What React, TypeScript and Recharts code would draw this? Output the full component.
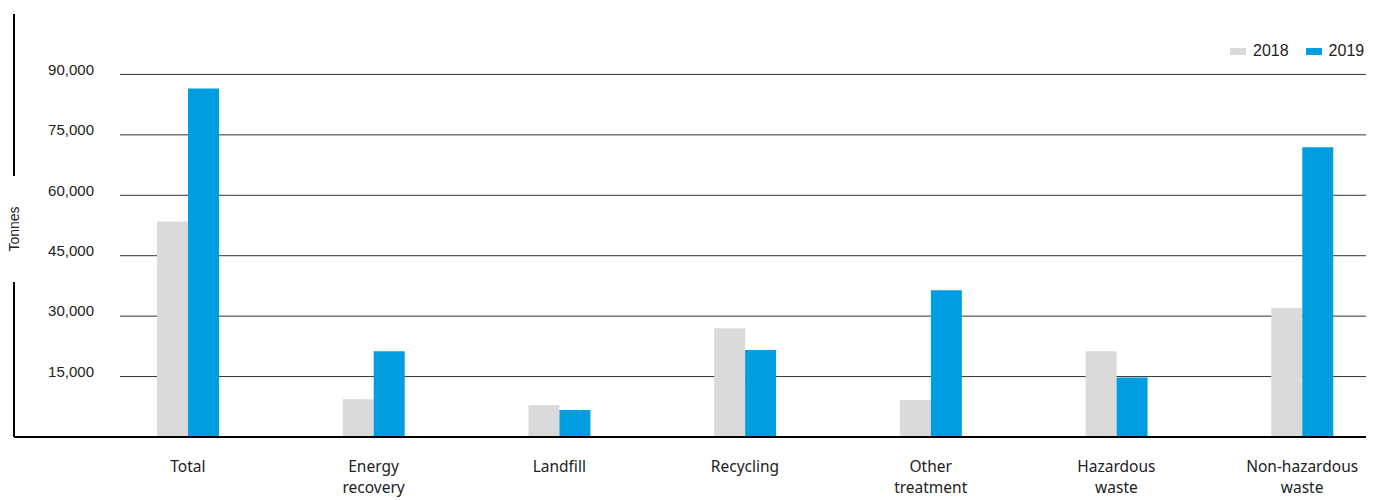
import React from 'react';
import { BarChart, Bar, XAxis, YAxis, CartesianGrid, Legend } from 'recharts';

const categories = ['Total', 'Energy recovery', 'Landfill', 'Recycling', 'Other treatment', 'Hazardous waste', 'Non-hazardous waste'];
const values2018 = [53500, 9400, 7900, 27000, 9200, 21300, 32000];
const values2019 = [86500, 21300, 6700, 21600, 36400, 14800, 71900];
const yTicks = [0, 15000, 30000, 45000, 60000, 75000, 90000];
const seriesNames = ['2018', '2019'];
const seriesColors = ['#dadada', '#009ee0'];
const yAxisTitle = 'Tonnes';

const data = categories.map((c, i) => ({ name: c, y2018: values2018[i], y2019: values2019[i] }));

const fmt = (v: number) => v.toLocaleString('en-US');

const YTick = (props: any) => {
  const { y, payload } = props;
  if (payload.value === 0) return <g />;
  return (
    <text x={94} y={y - 5} dy="0.355em" textAnchor="end" fontFamily="'Liberation Sans', Arial, sans-serif" fontSize={15} fill="#222">
      {fmt(payload.value)}
    </text>
  );
};

const XTick = (props: any) => {
  const { x, payload } = props;
  const words = String(payload.value).split(' ');
  return (
    <g>
      {words.map((w: string, i: number) => (
        <text key={i} x={x} y={472 + i * 21} textAnchor="middle" fontFamily="'Noto Sans', sans-serif" fontSize={15.5} fill="#222">
          {w}
        </text>
      ))}
    </g>
  );
};

const YLabel = () => (
  <g>
    <rect x={8} y={176} width={14} height={106} fill="#fff" />
    <text x={0} y={0} transform="translate(19,229) rotate(-90)" textAnchor="middle" fontFamily="'Liberation Sans', Arial, sans-serif" fontSize={14} fill="#222">
      {yAxisTitle}
    </text>
  </g>
);

const GridLine = (props: any) => {
  if (props.y1 < 30) return <g key={props.key} />;
  return <line key={props.key} x1={120} x2={props.x2} y1={props.y1} y2={props.y2} stroke="#333" strokeWidth={1} />;
};

const LegendContent = () => (
  <div style={{ display: 'flex', alignItems: 'center', fontFamily: "'Liberation Sans', Arial, sans-serif", fontSize: 16, color: '#222' }}>
    {seriesNames.map((n, i) => (
      <div key={n} style={{ display: 'flex', alignItems: 'center', marginLeft: i === 0 ? 0 : 17 }}>
        <div style={{ width: 16, height: 7, background: seriesColors[i], marginRight: 7 }} />
        <span>{n}</span>
      </div>
    ))}
  </div>
);

export default function App() {
  return (
    <div style={{ position: 'absolute', left: 0, top: 0, background: '#fff' }}>
      <BarChart width={1383} height={500} data={data} margin={{ top: 14, right: 17, bottom: 0, left: 0 }} barGap={0} barSize={31}>
        <CartesianGrid vertical={false} horizontal={GridLine} />
        <XAxis
          dataKey="name"
          interval={0}
          height={63}
          padding={{ left: 81, right: -29 }}
          axisLine={{ stroke: '#000', strokeWidth: 2 }}
          tickLine={false}
          tick={<XTick />}
        />
        <YAxis
          width={14}
          domain={[0, 105000]}
          ticks={yTicks}
          allowDataOverflow
          axisLine={{ stroke: '#000', strokeWidth: 2 }}
          tickLine={false}
          tick={<YTick />}
          label={<YLabel />}
        />
        <Legend
          layout="vertical"
          align="center"
          verticalAlign="middle"
          wrapperStyle={{ position: 'absolute', top: 42, left: 1230, width: 'auto', height: 'auto' }}
          content={<LegendContent />}
        />
        <Bar dataKey="y2018" name={seriesNames[0]} fill={seriesColors[0]} isAnimationActive={false} />
        <Bar dataKey="y2019" name={seriesNames[1]} fill={seriesColors[1]} isAnimationActive={false} />
      </BarChart>
    </div>
  );
}
